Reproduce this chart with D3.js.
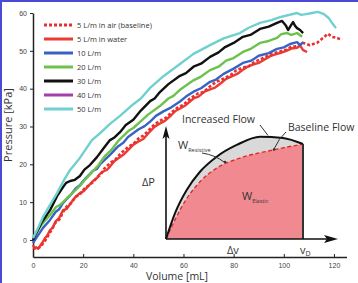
<!DOCTYPE html>
<html>
<head>
<meta charset="utf-8">
<script src="https://cdn.jsdelivr.net/npm/d3@7"></script>
<style>
  body { margin: 0; background: #fff; }
  svg { display: block; font-family: "Open Sans", "DejaVu Sans", sans-serif; }
</style>
</head>
<body>
<div id="chart"></div>
<script>
// Pressure [kPa] vs Volume [mL]
const air5 = [[0,-2.1],[1.5,-2.4],[3,-1.8],[5,0],[7,2.2],[9,4.6],[10.5,5.4],[12,7.4],[13.5,8.9],[15,9.6],[17,11.4],[18.7,12],[20.5,13.6],[22,14.3],[24,15.3],[25.5,16.6],[27,17.2],[28,18.6],[30.7,20.3],[33,21.4],[35,22.9],[38,24.6],[40,25.4],[42,26.8],[44,27.6],[46,28.9],[48.5,30.6],[50.6,31.5],[53,32.3],[55,33.6],[58,35.2],[60,35.7],[62.6,37.4],[66,38.8],[68,39.1],[70.6,40.6],[73,41.8],[75,42.3],[79,43.7],[81,44.8],[83.7,45.6],[86,45.9],[88,46.9],[92,48.2],[95,49.1],[97.3,49.6],[101,50.3],[103,51.1],[105.3,51.2],[107.7,52.1],[110.4,51.5],[113.2,52.1],[115.6,53.4],[117.6,54.5],[119.2,53.7],[121.2,53.4],[123.2,52.9]];
const water5 = [[0,-1.3],[0.6,-2.2],[1.2,-1.9],[2,-2.3],[2.8,-1.6],[3.6,-0.8],[4.8,0.5],[5.6,1.1],[6.8,2.6],[7.8,3.2],[9,4.9],[10.4,5.8],[12,7.9],[13.4,8.2],[15,9.7],[16.8,11.3],[18.7,12.4],[20.2,12.9],[22,14.2],[23.6,15.4],[25.5,16.4],[26.6,17.4],[28,18.1],[29.4,18.5],[30.7,19.4],[32.4,20.8],[34,21.6],[36,22.5],[38,23.8],[40,25.2],[41.9,26],[44,26.7],[46,28.2],[48.4,29.9],[50.6,30.8],[52.6,31.5],[55,32.9],[56.8,34.1],[58.5,34.7],[60.4,35.4],[62.6,36.6],[64.2,37.5],[66,37.9],[68.4,39.2],[70.6,39.8],[72.6,40.3],[75,41.5],[77,42.6],[79,43.2],[81.4,43.9],[83.7,45],[85.8,45.9],[88,46.4],[90,46.8],[92,47.6],[94.6,48.6],[97.3,49.2],[99,49.5],[101,50],[103,50.6],[105.3,50.8],[106.5,51.4],[107.7,50.2],[109.3,49.7]];
const flow10 = [[0,-0.8],[1.6,0.8],[4,3.2],[6.8,5.3],[9,7.4],[10.5,8.2],[12,9.8],[15,11.9],[17,13.6],[18.7,14.5],[21,16.3],[23.9,18.3],[25.5,18.8],[27,20.2],[30.7,22.5],[34,24.8],[36,25.7],[37.9,27.2],[42,29.2],[44.5,30.1],[46.7,31.3],[49,32.8],[52,34],[55,35],[58.6,36.6],[61,37.9],[64,39.2],[67,40.1],[70.6,41.8],[73,42.4],[76,43.9],[80,45.3],[83.7,46.8],[87,47.4],[90,48.7],[94,49.4],[97.3,50.5],[100,50.9],[102.5,51.8],[105.3,52.3],[106.5,51.5],[107.7,52.3]];
const flow20 = [[0.8,1.3],[3.6,4.2],[6.8,6.6],[9.2,8.7],[10.8,9.3],[12.4,10.3],[13.6,11.1],[16,12.6],[18.7,14.3],[21,16.1],[23.9,18.2],[26,19.7],[28.7,22.2],[31,23.6],[34.3,26.4],[38,28.8],[40,29.6],[42.7,31.2],[46,33.2],[50.6,35.4],[54,37.4],[56,38.1],[58.6,39.7],[64,42.2],[67,43.2],[70.6,44.9],[74,45.8],[77,47.4],[80,48.1],[83.7,49.7],[87,50.6],[90.5,52.1],[94,52.6],[97.3,53.4],[99,54.4],[101.3,54.7],[103,54.2],[105.3,54.7],[107.3,53.7]];
const flow30 = [[0,0],[0.8,1.1],[3.6,4.8],[6.8,7.9],[9.6,11.6],[12,14],[13.2,15.1],[14.8,15.6],[16.7,15.9],[18.7,16.9],[20.5,18.6],[22.7,19.8],[25.5,21.9],[28,24.1],[30.7,26.4],[32.5,27.1],[34.7,28.5],[37,30.4],[40,31.8],[43,34.2],[46.7,36.7],[48.5,37.4],[50.6,39.1],[54,41.2],[58.6,43.4],[61,44.1],[64,45.8],[67,46.6],[70.6,48.4],[74,49.6],[76.6,51],[80,52.1],[83.7,53.7],[87,54.3],[90.5,55.8],[94,56.4],[97.3,57.4],[99.3,57.9],[100.9,56.6],[101.7,55.5],[102.9,56.8],[103.7,57.6],[104.5,56.6],[105.3,56],[106.5,55.5],[107.7,54.7]];
const flow40 = [];
const flow50 = [[0,0.5],[1.6,2.6],[4,6.1],[6.8,9.3],[9.6,12.4],[12.4,15.9],[14.8,18.5],[18.7,21.7],[23.5,26.4],[27,28.4],[30.7,30.7],[34.7,32.8],[40,35.9],[43,37.4],[46.7,40.2],[52,43.3],[58.6,46.5],[64,49.2],[70.6,51.5],[76,53.3],[82.5,54.7],[86,56.1],[90.5,57.4],[95,58.1],[98.5,58.9],[105.3,60],[106.9,59.5],[108.9,59.7],[111.2,60],[113.6,60.3],[116,59.7],[118,58.6],[119.2,57.4],[120.8,56]];

const seriesNames = ['5 L/m in air (baseline)', '5 L/m in water', '10 L/m', '20 L/m', '30 L/m', '40 L/m', '50 L/m'];
const seriesData = [air5, water5, flow10, flow20, flow30, flow40, flow50];
const seriesColors = ['#e8312f', '#ec3a34', '#3863c6', '#6cc24a', '#111111', '#a23fa8', '#6fd0cf'];

const xTicks = [0, 20, 40, 60, 80, 100, 120];
const yTicks = [0, 10, 20, 30, 40, 50, 60];

// inset schematic, normalised volume (0..vD) vs pressure
const increasedFlow = [[0,0],[0.066,0.252],[0.151,0.476],[0.248,0.653],[0.37,0.799],[0.516,0.913],[0.686,0.993],[0.854,0.981],[1,0.922]];
const baselineFlow = [[0,0],[0.053,0.152],[0.102,0.282],[0.248,0.556],[0.37,0.689],[0.54,0.786],[0.781,0.864],[1,0.922]];

const W = 358, H = 283;
const svg = d3.select('#chart').append('svg')
    .attr('width', W)
    .attr('height', H);

// frame edge of the screenshot
svg.append('rect').attr('x', 0).attr('y', 0).attr('width', W).attr('height', 2).attr('fill', '#4a4ad6');
svg.append('rect').attr('x', 0).attr('y', 0).attr('width', 2).attr('height', H).attr('fill', '#4a4ad6');

const x = d3.scaleLinear().domain([0, 125]).range([33, 346.5]);
const y = d3.scaleLinear().domain([-4.5, 60]).range([257, 13]);

// axes
const xAxis = svg.append('g')
    .attr('transform', `translate(0,${y(-4.5)})`)
    .call(d3.axisBottom(x).tickValues(xTicks).tickSize(-3).tickPadding(6).tickSizeOuter(0));
const yAxis = svg.append('g')
    .attr('transform', `translate(${x(0)},0)`)
    .call(d3.axisLeft(y).tickValues(yTicks).tickSize(3).tickSizeOuter(0));

[xAxis, yAxis].forEach(g => {
    g.select('.domain').attr('stroke', '#222').attr('stroke-width', 1.5);
    g.selectAll('.tick line').attr('stroke', '#222');
    g.selectAll('.tick text').attr('fill', '#444').style('font-size', '7px');
});

svg.append('text')
    .attr('x', 177).attr('y', 280)
    .attr('text-anchor', 'middle')
    .style('font-size', '10.5px').attr('fill', '#333')
    .text('Volume [mL]');

svg.append('text')
    .attr('transform', 'rotate(-90)')
    .attr('x', -125).attr('y', 12)
    .attr('text-anchor', 'middle')
    .style('font-size', '11px').attr('fill', '#333')
    .text('Pressure [kPa]');

// data lines
const line = d3.line().x(d => x(d[0])).y(d => y(d[1]));
const drawOrder = [1, 0, 2, 3, 4, 5, 6];
drawOrder.forEach(i => {
    if (!seriesData[i].length) return;
    svg.append('path')
        .datum(seriesData[i])
        .attr('d', line)
        .attr('fill', 'none')
        .attr('stroke', seriesColors[i])
        .attr('stroke-width', i === 0 ? 2.6 : 2.4)
        .attr('stroke-dasharray', i === 0 ? '3,2' : null)
        .attr('stroke-linejoin', 'round');
});

// legend
const legend = svg.append('g').attr('transform', 'translate(44,25)');
seriesNames.forEach((name, i) => {
    const row = legend.append('g').attr('transform', `translate(0,${i * 14})`);
    row.append('line')
        .attr('x1', 0).attr('x2', 29)
        .attr('stroke', seriesColors[i])
        .attr('stroke-width', 3)
        .attr('stroke-dasharray', i === 0 ? '3,2' : null);
    row.append('text')
        .attr('x', 33).attr('y', 2.5)
        .style('font-size', '7.5px').attr('fill', '#333')
        .text(name);
});

// inset diagram
const ix = d3.scaleLinear().domain([0, 1]).range([166, 303]);
const iy = d3.scaleLinear().domain([0, 1]).range([239, 136]);
const inset = svg.append('g');

const area = d3.area().x(d => ix(d[0])).y0(iy(0)).y1(d => iy(d[1])).curve(d3.curveMonotoneX);
const iline = d3.line().x(d => ix(d[0])).y(d => iy(d[1])).curve(d3.curveMonotoneX);

inset.append('path').datum(increasedFlow).attr('d', area).attr('fill', '#d9d9d9');
inset.append('path').datum(baselineFlow).attr('d', area).attr('fill', '#f08a90');

inset.append('path').datum(baselineFlow).attr('d', iline)
    .attr('fill', 'none').attr('stroke', '#e02b2b').attr('stroke-width', 1.4)
    .attr('stroke-dasharray', '4,2.5');
inset.append('path').datum(increasedFlow).attr('d', iline)
    .attr('fill', 'none').attr('stroke', '#111').attr('stroke-width', 2);

// vD edge
inset.append('line')
    .attr('x1', ix(1)).attr('x2', ix(1))
    .attr('y1', iy(0.922)).attr('y2', iy(0))
    .attr('stroke', '#333').attr('stroke-width', 2);

// arrows
inset.append('line').attr('x1', ix(0)).attr('y1', iy(0)).attr('x2', ix(0)).attr('y2', 136)
    .attr('stroke', '#111').attr('stroke-width', 1.6);
inset.append('path').attr('d', `M${ix(0)},126 L${ix(0) - 3.5},139 L${ix(0)},136 L${ix(0) + 3.5},139 Z`).attr('fill', '#111');
inset.append('line').attr('x1', ix(0)).attr('y1', iy(0)).attr('x2', 327).attr('y2', iy(0))
    .attr('stroke', '#111').attr('stroke-width', 1.6);
inset.append('path').attr('d', `M338,${iy(0)} L324,${iy(0) - 4} L327,${iy(0)} L324,${iy(0) + 4} Z`).attr('fill', '#111');

// labels
const lab = (tx, ty, txt, size) => inset.append('text')
    .attr('x', tx).attr('y', ty)
    .style('font-size', size + 'px').attr('fill', '#333').text(txt);

lab(182, 123, 'Increased Flow', 10.5);
lab(288, 131, 'Baseline Flow', 10.5);
lab(142, 186, 'ΔP', 11);
lab(227, 254, 'Δv', 11);

const vd = lab(300, 254, 'v', 11);
vd.append('tspan').attr('dy', 2).style('font-size', '7px').text('D');

const wr = lab(178, 149, 'W', 11);
wr.append('tspan').attr('dy', 2.5).style('font-size', '5.5px').text('Resistive');
const we = lab(242, 200, 'W', 11);
we.append('tspan').attr('dy', 2.5).style('font-size', '5.5px').text('Elastic');

// leader lines
inset.append('line').attr('x1', 260).attr('y1', 125).attr('x2', 268).attr('y2', 135.5)
    .attr('stroke', '#333').attr('stroke-width', 1);
inset.append('path').attr('d', 'M286,132 Q279,138 274,149')
    .attr('fill', 'none').attr('stroke', '#333').attr('stroke-width', 1);
inset.append('circle').attr('cx', 274).attr('cy', 149.5).attr('r', 1.3).attr('fill', '#333');
inset.append('path').attr('d', 'M202,153 Q215,155 224,162')
    .attr('fill', 'none').attr('stroke', '#333').attr('stroke-width', 1);
inset.append('circle').attr('cx', 225).attr('cy', 162).attr('r', 1.3).attr('fill', '#333');
</script>
</body>
</html>
